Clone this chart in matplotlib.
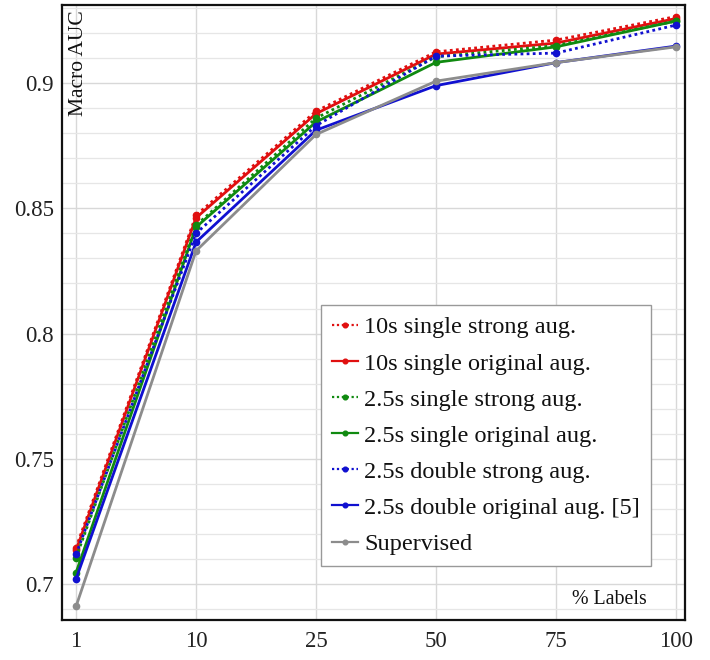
import matplotlib
matplotlib.use("Agg")
import matplotlib.pyplot as plt
from matplotlib.ticker import MultipleLocator

x_labels = ["1", "10", "25", "50", "75", "100"]

s10_single_strong = [0.7145, 0.8472, 0.8888, 0.9125, 0.9172, 0.9266]
s10_single_orig = [0.7135, 0.8462, 0.8878, 0.9116, 0.9160, 0.9258]
s25_single_strong = [0.7105, 0.8432, 0.8860, 0.9105, 0.9150, 0.9248]
s25_single_orig = [0.7045, 0.8425, 0.8845, 0.9083, 0.9145, 0.9248]
s25_double_strong = [0.7118, 0.8400, 0.8830, 0.9108, 0.9120, 0.9232]
s25_double_orig = [0.7020, 0.8365, 0.8812, 0.8990, 0.9082, 0.9148]
supervised = [0.6910, 0.8330, 0.8795, 0.9008, 0.9082, 0.9145]

series_labels = ["10s single strong aug.", "10s single original aug.",
                 "2.5s single strong aug.", "2.5s single original aug.",
                 "2.5s double strong aug.", "2.5s double original aug. [5]",
                 "Supervised"]

plt.rcParams['font.family'] = ['Liberation Serif', 'DejaVu Serif']

fig = plt.figure(figsize=(7.1, 6.6), dpi=100)
ax = fig.add_axes([0.0873, 0.0606, 0.8775, 0.9318])

xs = list(range(len(x_labels)))
dot = (0, (1, 1.2))
series = [
    (s10_single_strong, '#e01010', dot),
    (s10_single_orig, '#e01010', '-'),
    (s25_single_strong, '#108a10', dot),
    (s25_single_orig, '#108a10', '-'),
    (s25_double_strong, '#1010d0', dot),
    (s25_double_orig, '#1010d0', '-'),
    (supervised, '#8c8c8c', '-'),
]
handles = []
for (vals, col, ls), lab in zip(series, series_labels):
    h, = ax.plot(xs, vals, color=col, linestyle=ls, linewidth=2.0,
                 marker='o', markersize=4.5, label=lab)
    handles.append(h)

ax.set_xlim(-0.117, 5.075)
ax.set_ylim(0.6856, 0.9312)
ax.set_xticks(xs)
ax.set_xticklabels(x_labels)
ax.yaxis.set_minor_locator(MultipleLocator(0.01))
ax.set_yticks([0.7, 0.75, 0.8, 0.85, 0.9])
ax.set_yticklabels(["0.7", "0.75", "0.8", "0.85", "0.9"])
ax.grid(True, which='major', color='#d8d8d8', linewidth=1.0)
ax.grid(True, which='minor', axis='y', color='#e6e6e6', linewidth=0.9)
ax.set_axisbelow(True)
ax.tick_params(axis='both', which='both', length=0, labelsize=16.5, colors='#222222')
ax.tick_params(axis='x', pad=8)
ax.tick_params(axis='y', pad=6)
for sp in ax.spines.values():
    sp.set_linewidth(1.6)
    sp.set_color('#111111')

ax.text(0.026, 0.992, "Macro AUC", transform=ax.transAxes, rotation=90,
        ha='center', va='top', fontsize=15.5, color='#111111')
ax.text(0.939, 0.018, "% Labels", transform=ax.transAxes,
        ha='right', va='bottom', fontsize=14.3, color='#111111')

leg = ax.legend(handles=handles, loc='lower right', bbox_to_anchor=(0.9455, 0.0878),
                borderaxespad=0.0,
                fontsize=17.5, frameon=True, fancybox=False, edgecolor='#999999',
                framealpha=1.0, handlelength=1.1, handletextpad=0.25,
                labelspacing=0.58, borderpad=0.45, markerscale=0.75)
leg.get_frame().set_linewidth(1.0)
for h in leg.legend_handles:
    h.set_linewidth(1.6)
for t in leg.get_texts():
    t.set_color('#111111')

fig.savefig("out.png", dpi=100)
